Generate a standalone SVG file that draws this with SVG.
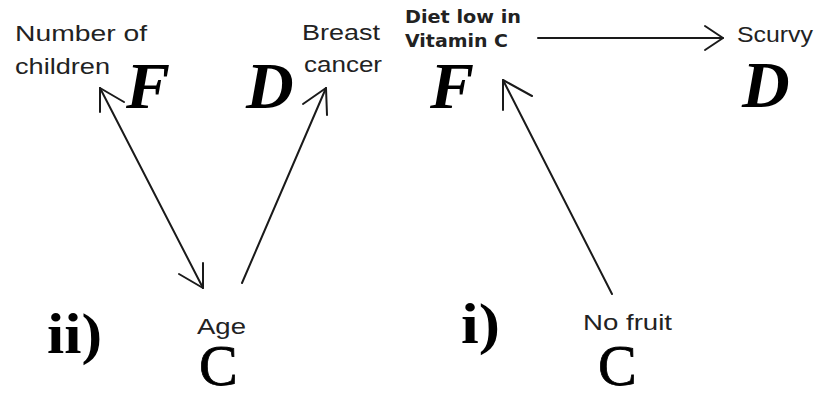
<svg xmlns="http://www.w3.org/2000/svg" width="822" height="397" viewBox="0 0 822 397">
<style>
.lbl{font-family:"Liberation Sans",Arial,sans-serif;fill:#222;font-size:22px}
.bl{font-family:"DejaVu Sans",Verdana,sans-serif;font-weight:bold;fill:#222;font-size:17px}
.var{font-family:"Liberation Serif","Times New Roman",serif;font-style:italic;font-weight:bold;fill:#000;font-size:66px}
.cv{font-family:"Liberation Serif","Times New Roman",serif;fill:#000;font-size:58px;stroke:#000;stroke-width:0.8}
.num{font-family:"Liberation Serif","Times New Roman",serif;font-weight:bold;fill:#000;font-size:56px}
.ln{stroke:#1a1a1a;stroke-width:2;fill:none;stroke-linecap:round;stroke-linejoin:round}
</style>
<rect width="822" height="397" fill="#fff"/>
<g id="node-children">
<text class="lbl" x="15" y="41" textLength="132" lengthAdjust="spacingAndGlyphs">Number of</text>
<text class="lbl" x="15" y="74" textLength="95" lengthAdjust="spacingAndGlyphs">children</text>
<text class="var" x="126" y="108">F</text>
</g>
<g id="node-breast">
<text class="lbl" x="302" y="40" textLength="78" lengthAdjust="spacingAndGlyphs">Breast</text>
<text class="lbl" x="304" y="72" textLength="78" lengthAdjust="spacingAndGlyphs">cancer</text>
<text class="var" x="246" y="108">D</text>
</g>
<g id="node-age">
<text class="lbl" x="197" y="334" textLength="49" lengthAdjust="spacingAndGlyphs">Age</text>
<text class="cv" x="199" y="385">C</text>
</g>
<g id="label-ii">
<text class="num" x="47" y="353" textLength="55" lengthAdjust="spacingAndGlyphs">ii)</text>
</g>
<g id="node-diet">
<text class="bl" x="405" y="23" textLength="116" lengthAdjust="spacingAndGlyphs">Diet low in</text>
<text class="bl" x="405" y="47" textLength="103" lengthAdjust="spacingAndGlyphs">Vitamin C</text>
<text class="var" x="430" y="108">F</text>
</g>
<g id="node-scurvy">
<text class="lbl" x="737" y="42" textLength="76" lengthAdjust="spacingAndGlyphs">Scurvy</text>
<text class="var" x="742" y="107">D</text>
</g>
<g id="node-nofruit">
<text class="lbl" x="583" y="330" textLength="89" lengthAdjust="spacingAndGlyphs">No fruit</text>
<text class="cv" x="598" y="385">C</text>
</g>
<g id="label-i">
<text class="num" x="461" y="343" textLength="39" lengthAdjust="spacingAndGlyphs">i)</text>
</g>
<g id="connectors">
<line class="ln" x1="100" y1="88" x2="203" y2="288"/>
<polyline class="ln" points="100,112 100,88 124,102"/>
<polyline class="ln" points="203,263 203,288 179,274"/>
<line class="ln" x1="242" y1="283" x2="326" y2="88"/>
<polyline class="ln" points="327,115 326,88 303,104"/>
<line class="ln" x1="538" y1="38" x2="723" y2="38"/>
<polyline class="ln" points="705,26 723,38 705,50"/>
<line class="ln" x1="612" y1="294" x2="503" y2="80"/>
<polyline class="ln" points="503,110 503,80 532,96"/>
</g>
</svg>
